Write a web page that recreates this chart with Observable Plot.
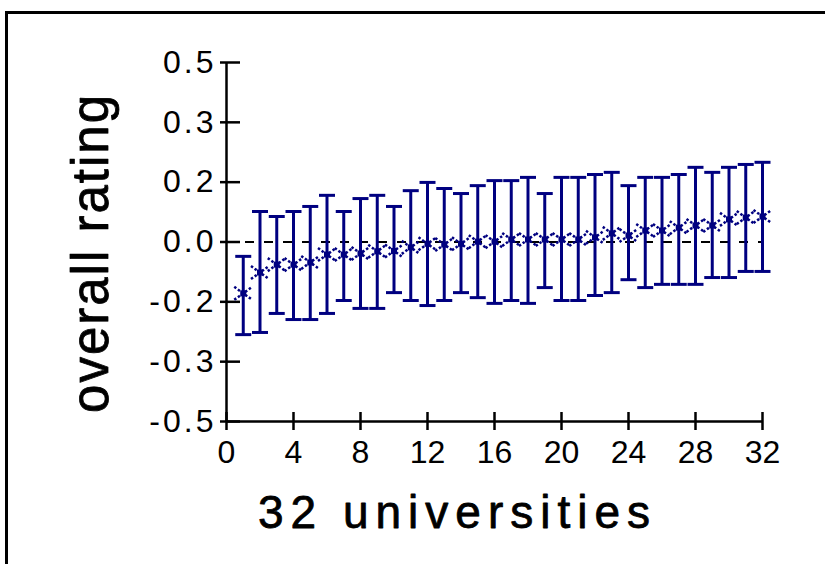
<!DOCTYPE html>
<html>
<head>
<meta charset="utf-8">
<script src="https://cdn.jsdelivr.net/npm/d3@7"></script>
<script src="https://cdn.jsdelivr.net/npm/@observablehq/plot@0.6"></script>
<style>
  html, body { margin: 0; padding: 0; background: #fff; overflow: hidden; }
  #wrap { position: relative; width: 825px; height: 564px; }
  #frame { position: absolute; left: 5px; top: 11px; width: 900px; height: 700px; border: 3px solid #000; pointer-events: none; }
</style>
</head>
<body>
<div id="wrap"><div id="chart"></div><div id="frame"></div></div>
<script>
const universities = [1,2,3,4,5,6,7,8,9,10,11,12,13,14,15,16,17,18,19,20,21,22,23,24,25,26,27,28,29,30,31,32];
const meanRating = [-0.143,-0.085,-0.063,-0.063,-0.057,-0.035,-0.035,-0.032,-0.026,-0.025,-0.015,-0.005,-0.007,-0.005,0.001,0.001,0.007,0.007,0.007,0.007,0.007,0.013,0.024,0.018,0.032,0.032,0.040,0.046,0.046,0.063,0.068,0.071];
const upper = [-0.040,0.085,0.071,0.085,0.099,0.130,0.085,0.121,0.130,0.099,0.143,0.166,0.149,0.135,0.157,0.171,0.171,0.180,0.135,0.180,0.180,0.188,0.194,0.157,0.180,0.180,0.188,0.208,0.194,0.208,0.216,0.222];
const lower = [-0.258,-0.252,-0.199,-0.216,-0.216,-0.199,-0.163,-0.185,-0.185,-0.141,-0.163,-0.177,-0.163,-0.141,-0.155,-0.171,-0.163,-0.171,-0.127,-0.163,-0.163,-0.149,-0.141,-0.105,-0.127,-0.118,-0.118,-0.118,-0.099,-0.099,-0.082,-0.082];
const xTicks = [0,4,8,12,16,20,24,28,32];
const yTicks = [-0.5,-1/3,-1/6,0,1/6,1/3,0.5];
const xLabel = "32 universities";
const yLabel = "overall rating";

const data = universities.map((u, i) => ({x: u, mean: meanRating[i], hi: upper[i], lo: lower[i]}));
const navy = "#000080";

const capSymbol = { draw(ctx) { ctx.moveTo(-8, 0); ctx.lineTo(8, 0); } };
const crossSymbol = { draw(ctx) { ctx.moveTo(-9, -6.5); ctx.lineTo(9, 6.5); ctx.moveTo(-9, 6.5); ctx.lineTo(9, -6.5); } };

const W = 825, H = 564, mL = 226, mR = 63, mT = 62, mB = 143;
const pw = W - mL - mR, ph = H - mT - mB;

const chart = Plot.plot({
  width: W, height: H,
  marginLeft: mL, marginRight: mR, marginTop: mT, marginBottom: mB,
  style: {fontFamily: "'Liberation Sans', Arial, sans-serif", fontSize: "32px", color: "#000", background: "transparent"},
  x: {domain: [0, 32]},
  y: {domain: [-0.5, 0.5]},
  marks: [
    Plot.axisY({ticks: yTicks, tickSize: 0, tickPadding: 10, tickFormat: d => d.toFixed(1), label: null, fontSize: 32, stroke: "#000", strokeWidth: 0.5}),
    Plot.axisX({ticks: xTicks, tickSize: 0, tickPadding: 19, tickFormat: d => String(d), label: null, fontSize: 32, stroke: "#000", strokeWidth: 0.5}),
    Plot.ruleY([0], {stroke: "#000", strokeWidth: 2, strokeDasharray: "9 10"}),
    Plot.tickY(yTicks, {y: d => d, insetLeft: -6, insetRight: pw - 14, stroke: "#000", strokeWidth: 2.5}),
    Plot.tickX(xTicks, {x: d => d, insetTop: ph - 9, insetBottom: -9, stroke: "#000", strokeWidth: 2.5}),
    Plot.ruleX([0], {stroke: "#000", strokeWidth: 2.5}),
    Plot.ruleY([-0.5], {stroke: "#000", strokeWidth: 2.5}),
    Plot.ruleX(data, {x: "x", y1: "lo", y2: "hi", stroke: navy, strokeWidth: 3}),
    Plot.dot(data, {x: "x", y: "hi", symbol: capSymbol, fill: "none", stroke: navy, strokeWidth: 3}),
    Plot.dot(data, {x: "x", y: "lo", symbol: capSymbol, fill: "none", stroke: navy, strokeWidth: 3}),
    Plot.dot(data, {x: "x", y: "mean", symbol: crossSymbol, fill: "none", stroke: navy, strokeWidth: 2.5, strokeDasharray: "2.5 2"}),
    Plot.dot(data, {x: "x", y: "mean", symbol: "square", r: 3.4, fill: navy, stroke: "none"}),
    Plot.text([yLabel], {text: d => d, frameAnchor: "left", rotate: -90, dx: -135, dy: 11, fontSize: 51, lineAnchor: "middle", textAnchor: "middle", fill: "#000", stroke: "#000", strokeWidth: 0.8}),
    Plot.text([xLabel], {text: d => d, frameAnchor: "bottom", dx: -37, dy: 92, fontSize: 46, lineAnchor: "middle", textAnchor: "middle", fill: "#000", stroke: "#000", strokeWidth: 0.8})
  ]
});
document.getElementById("chart").appendChild(chart);
d3.select(chart).selectAll("text").each(function() {
  const t = this.textContent;
  if (t === xLabel) this.style.letterSpacing = "7px";
  else if (t === yLabel) this.style.letterSpacing = "2px";
  else if (t.includes(".")) this.style.letterSpacing = "3px";
});
</script>
</body>
</html>
